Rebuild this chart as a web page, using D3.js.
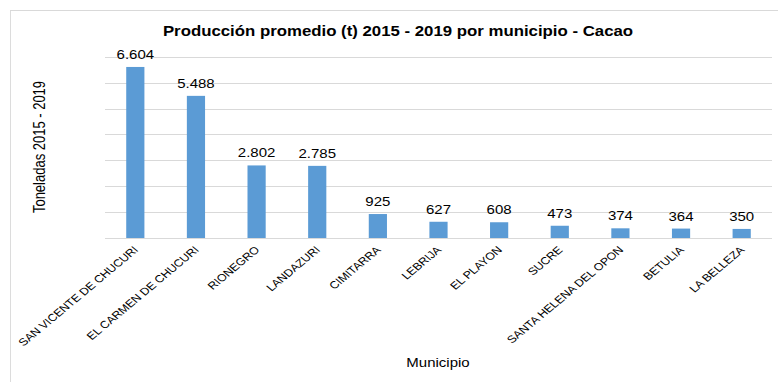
<!DOCTYPE html>
<html>
<head>
<meta charset="utf-8">
<script src="https://cdn.jsdelivr.net/npm/d3@7"></script>
<style>
  html, body { margin: 0; padding: 0; background: #fff; }
  svg { display: block; }
  text { font-family: "Liberation Sans", Arial, sans-serif; fill: #000; }
</style>
</head>
<body>
<svg id="chart" width="778" height="382"></svg>
<script>
// Average cocoa production per municipality, 2015-2019 (tonnes)
const municipios = [
  "SAN VICENTE DE CHUCURI", "EL CARMEN DE CHUCURI", "RIONEGRO", "LANDAZURI",
  "CIMITARRA", "LEBRIJA", "EL PLAYON", "SUCRE", "SANTA HELENA DEL OPON",
  "BETULIA", "LA BELLEZA"
];
const toneladas = [6604, 5488, 2802, 2785, 925, 627, 608, 473, 374, 364, 350];
const yTicks = [0, 1000, 2000, 3000, 4000, 5000, 6000, 7000];

const W = 778, H = 382;
const sx = 1.2;               // horizontal stretch of the whole drawing
const innerW = W / sx;

const svg = d3.select("#chart");
const g = svg.append("g").attr("transform", `scale(${sx},1)`);

// Chart frame (top and left edges)
const frameColor = "#d9d9d9";
g.append("line").attr("x1", 10 / sx).attr("x2", innerW).attr("y1", 10.5).attr("y2", 10.5)
  .attr("stroke", frameColor).attr("stroke-width", 1);
g.append("line").attr("x1", 10.5 / sx).attr("x2", 10.5 / sx).attr("y1", 10).attr("y2", H)
  .attr("stroke", frameColor).attr("stroke-width", 1 / sx);

const plotLeft = 105 / sx, plotRight = 772 / sx;
const x = d3.scaleBand().domain(municipios).range([plotLeft, plotRight]).paddingInner(0.7).paddingOuter(0.35);
const y = d3.scaleLinear().domain([0, 7000]).range([238, 56.7]);

// Horizontal gridlines
g.append("g").selectAll("line").data(yTicks).join("line")
  .attr("x1", plotLeft).attr("x2", plotRight)
  .attr("y1", d => Math.round(y(d)) + 0.5).attr("y2", d => Math.round(y(d)) + 0.5)
  .attr("stroke", "#d9d9d9").attr("stroke-width", 1);

// Bars
g.append("g").selectAll("rect").data(toneladas).join("rect")
  .attr("x", (d, i) => x(municipios[i]))
  .attr("width", x.bandwidth())
  .attr("y", d => y(d))
  .attr("height", d => y(0) - y(d))
  .attr("fill", "#5b9bd5");

// Value labels (Spanish thousands separator)
const fmt = d3.formatLocale({ decimal: ",", thousands: ".", grouping: [3], currency: ["", ""] }).format(",d");
g.append("g").selectAll("text").data(toneladas).join("text")
  .attr("x", (d, i) => x(municipios[i]) + x.bandwidth() / 2)
  .attr("y", d => y(d) - 8)
  .attr("text-anchor", "middle")
  .style("font-size", "12.5px")
  .text(d => fmt(d));

// Category labels, rotated
g.append("g").selectAll("text").data(municipios).join("text")
  .attr("transform", d => `translate(${x(d) + x.bandwidth() / 2 + 0.5},${248}) rotate(-45)`)
  .attr("text-anchor", "end")
  .attr("dy", "0.35em")
  .style("font-size", "10.3px")
  .text(d => d);

// Title
g.append("text")
  .attr("x", 398 / sx).attr("y", 36)
  .attr("text-anchor", "middle")
  .style("font-size", "14px").style("font-weight", "bold")
  .text("Producción promedio (t) 2015 - 2019 por municipio - Cacao");

// Axis titles
g.append("text")
  .attr("transform", `translate(${45 / sx},147) rotate(-90)`)
  .attr("text-anchor", "middle")
  .style("font-size", "13px")
  .text("Toneladas 2015 - 2019");

g.append("text")
  .attr("x", 438 / sx).attr("y", 366.5)
  .attr("text-anchor", "middle")
  .style("font-size", "12.5px")
  .text("Municipio");
</script>
</body>
</html>
